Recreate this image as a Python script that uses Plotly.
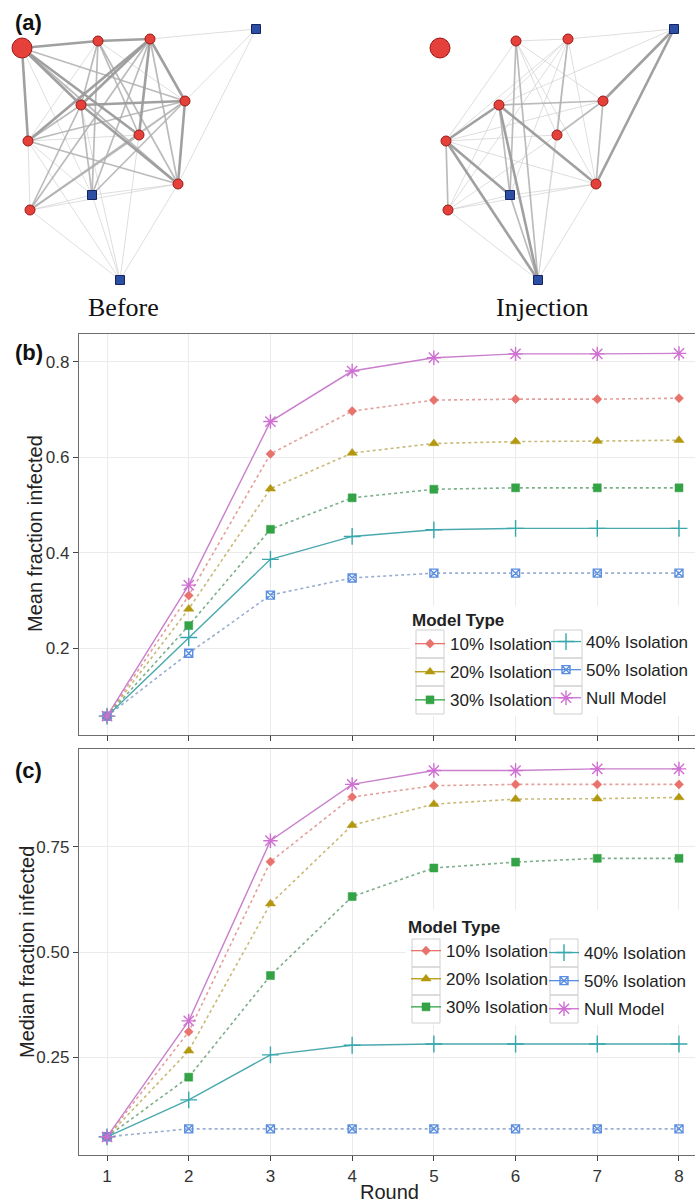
import plotly.graph_objects as go

W, H = 695, 1203

# ---------------- data ----------------
rounds = [1, 2, 3, 4, 5, 6, 7, 8]
model_types = ["10% Isolation", "20% Isolation", "30% Isolation",
               "40% Isolation", "50% Isolation", "Null Model"]

mean_10 = [0.057, 0.310, 0.607, 0.697, 0.720, 0.722, 0.722, 0.724]
mean_20 = [0.057, 0.282, 0.534, 0.609, 0.629, 0.633, 0.634, 0.636]
mean_30 = [0.057, 0.247, 0.449, 0.515, 0.533, 0.536, 0.536, 0.536]
mean_40 = [0.057, 0.222, 0.386, 0.434, 0.448, 0.451, 0.451, 0.451]
mean_50 = [0.057, 0.189, 0.311, 0.347, 0.357, 0.357, 0.357, 0.357]
mean_null = [0.057, 0.332, 0.675, 0.781, 0.809, 0.817, 0.817, 0.818]

median_10 = [0.060, 0.310, 0.715, 0.869, 0.896, 0.899, 0.899, 0.899]
median_20 = [0.060, 0.265, 0.615, 0.802, 0.852, 0.864, 0.865, 0.868]
median_30 = [0.060, 0.202, 0.444, 0.632, 0.700, 0.714, 0.723, 0.723]
median_40 = [0.060, 0.148, 0.255, 0.278, 0.281, 0.281, 0.281, 0.281]
median_50 = [0.060, 0.079, 0.079, 0.079, 0.079, 0.079, 0.079, 0.079]
median_null = [0.060, 0.336, 0.765, 0.899, 0.932, 0.932, 0.936, 0.936]

mean_ticks = [0.2, 0.4, 0.6, 0.8]
mean_ticktext = ["0.2", "0.4", "0.6", "0.8"]
median_ticks = [0.25, 0.50, 0.75]
median_ticktext = ["0.25", "0.50", "0.75"]

# network (layout coordinates of nodes; same layout used for both graphs)
node_ids = ["A", "B", "C", "S1", "D", "E", "F", "G", "H", "S2", "I", "S3"]
node_kind = ["big", "circle", "circle", "square", "circle", "circle",
             "circle", "circle", "circle", "square", "circle", "square"]
node_lx = [22, 98, 150, 256, 81, 185, 139, 28, 178, 92, 30, 120]
node_ly = [48, 41, 39, 29, 105, 101, 135, 141, 184, 195, 210, 280]

edges_before = [
    ("A", "B", 3), ("B", "C", 3), ("C", "S1", 1), ("A", "D", 3), ("A", "F", 3),
    ("A", "G", 3), ("A", "H", 2), ("A", "E", 2), ("A", "S2", 1),
    ("B", "D", 2), ("B", "S2", 2), ("B", "F", 2), ("B", "E", 1), ("B", "H", 2), ("B", "G", 1),
    ("C", "D", 3), ("C", "G", 3), ("C", "I", 2), ("C", "F", 3), ("C", "E", 3),
    ("C", "H", 2), ("C", "S2", 2),
    ("D", "E", 3), ("D", "H", 3), ("D", "G", 2), ("D", "I", 2), ("D", "S2", 2), ("D", "S3", 1),
    ("E", "G", 2), ("E", "I", 2), ("E", "S2", 2), ("E", "H", 3), ("E", "S1", 1), ("E", "F", 1),
    ("F", "G", 1), ("F", "I", 2), ("F", "S3", 1),
    ("G", "H", 2), ("G", "I", 1), ("G", "S3", 1), ("G", "S2", 1),
    ("H", "I", 1), ("H", "S3", 1), ("H", "S1", 1), ("H", "S2", 1),
    ("I", "S3", 1), ("I", "S2", 1), ("S2", "S3", 1),
]
edges_injection = [
    ("B", "C", 1), ("C", "S1", 1), ("B", "G", 1), ("B", "S2", 2), ("B", "S3", 2),
    ("B", "H", 1), ("B", "E", 1), ("B", "F", 1),
    ("C", "D", 1), ("C", "F", 2), ("C", "H", 1), ("C", "G", 1), ("C", "S3", 1),
    ("C", "S2", 1), ("C", "I", 1),
    ("S1", "E", 3), ("S1", "H", 3), ("S1", "D", 1),
    ("D", "G", 3), ("D", "E", 2), ("D", "H", 3), ("D", "S3", 3), ("D", "S2", 2), ("D", "I", 1),
    ("E", "F", 2), ("E", "H", 2), ("E", "G", 1),
    ("F", "G", 1), ("F", "S3", 1), ("F", "I", 1),
    ("G", "S2", 3), ("G", "S3", 3), ("G", "I", 2), ("G", "H", 1),
    ("H", "I", 1), ("H", "S2", 1), ("H", "S3", 1),
    ("I", "S3", 1), ("I", "S2", 1), ("S2", "S3", 2),
]
graph_titles = ["Before", "Injection"]

# ---------------- styles ----------------
colors = ["#e8736c", "#b3980f", "#33a345", "#35a7ad", "#5a8ee0", "#cf6fd2"]
line_colors = ["rgba(214,120,115,0.7)", "rgba(175,155,60,0.7)", "rgba(70,140,90,0.7)",
               "#4aa9ad", "rgba(110,140,190,0.7)", "#c97fcc"]
symbols = ["diamond", "triangle-up", "square", "cross-thin-open", "square-x-open", "asterisk-open"]
msizes = [7, 9, 8, 12, 8, 12]
dashes = ["dot", "dot", "dot", "solid", "dot", "solid"]
FONT = "Liberation Sans, Arial, sans-serif"


def px(x):
    return x / W


def py(y):
    return 1 - y / H


fig = go.Figure()

# ---------------- network panel ----------------
edge_styles = {1: ("rgba(205,205,205,0.65)", 1.0),
               2: ("rgba(175,175,175,0.85)", 1.7),
               3: ("rgba(155,155,155,0.95)", 2.6)}
graph_offset = [0, 418]
idx = {n: i for i, n in enumerate(node_ids)}
for g, edges in enumerate([edges_before, edges_injection]):
    off = graph_offset[g]
    for w in (1, 2, 3):
        ex, ey = [], []
        for a, b, ww in edges:
            if ww != w:
                continue
            ex += [node_lx[idx[a]] + off, node_lx[idx[b]] + off, None]
            ey += [node_ly[idx[a]], node_ly[idx[b]], None]
        col, lw = edge_styles[w]
        fig.add_trace(go.Scatter(x=ex, y=ey, mode="lines", line=dict(color=col, width=lw),
                                 xaxis="x3", yaxis="y3", showlegend=False, hoverinfo="skip"))
    for kind, sym, size, fill, edge in [("circle", "circle", 10, "#e5403a", "#9c1a16"),
                                         ("big", "circle", 20, "#e5403a", "#9c1a16"),
                                         ("square", "square", 9, "#2d4fa3", "#14245e")]:
        xs = [node_lx[i] + off for i in range(len(node_ids)) if node_kind[i] == kind]
        ys = [node_ly[i] for i in range(len(node_ids)) if node_kind[i] == kind]
        fig.add_trace(go.Scatter(x=xs, y=ys, mode="markers",
                                 marker=dict(symbol=sym, size=size, color=fill,
                                             line=dict(color=edge, width=1)),
                                 xaxis="x3", yaxis="y3", showlegend=False, hoverinfo="skip"))

# ---------------- line panels ----------------
panels = [("x", "y", [mean_10, mean_20, mean_30, mean_40, mean_50, mean_null], ["legend", "legend2"]),
          ("x2", "y2", [median_10, median_20, median_30, median_40, median_50, median_null], ["legend3", "legend4"])]
for pi, (xa, ya, series, legs) in enumerate(panels):
    for i, name in enumerate(model_types):
        open_sym = symbols[i].endswith("open")
        mk = dict(symbol=symbols[i], size=msizes[i], color=colors[i],
                  line=dict(color=colors[i], width=1.4 if open_sym else 0.5))
        fig.add_trace(go.Scatter(x=rounds, y=series[i], mode="lines+markers", name=name,
                                 line=dict(color=line_colors[i], width=1.4 if dashes[i] == "solid" else 1.6,
                                           dash=dashes[i]),
                                 marker=mk, xaxis=xa, yaxis=ya, showlegend=False))
    for i, name in enumerate(model_types):
        open_sym = symbols[i].endswith("open")
        mk = dict(symbol=symbols[i], size=msizes[i], color=colors[i],
                  line=dict(color=colors[i], width=1.4 if open_sym else 0.5))
        fig.add_trace(go.Scatter(x=[None], y=[None], mode="lines+markers", name=name,
                                 line=dict(color=colors[i], width=1.3), marker=mk,
                                 xaxis=xa, yaxis=ya, showlegend=True,
                                 legend=legs[0] if i < 3 else legs[1],
                                 legendgroup=f"p{pi}_{i}"))

# ---------------- layout ----------------
tickfont = dict(family=FONT, size=17, color="#333333")
axis_common = dict(showgrid=True, gridcolor="#ebebeb", gridwidth=1, zeroline=False,
                   showline=True, linecolor="#6e6e6e", linewidth=1.3,
                   ticks="outside", ticklen=5, tickwidth=1.2, tickcolor="#444444",
                   tickfont=tickfont, automargin=False)
xdom = [px(79), 1]
fig.update_layout(
    width=W, height=H, margin=dict(l=0, r=0, t=0, b=0),
    paper_bgcolor="white", plot_bgcolor="white",
    font=dict(family=FONT, color="#222222"),
    xaxis=dict(domain=xdom, anchor="y", range=[0.657, 8.196], tickvals=rounds,
               showticklabels=False, mirror=True, **axis_common),
    yaxis=dict(domain=[py(735), py(334)], anchor="x", range=[0.0175, 0.8587],
               tickvals=mean_ticks, ticktext=mean_ticktext, **axis_common),
    xaxis2=dict(domain=xdom, anchor="y2", range=[0.657, 8.196], tickvals=rounds,
                ticktext=[str(r) for r in rounds], mirror=True, **axis_common),
    yaxis2=dict(domain=[py(1155), py(749)], anchor="x2", range=[0.0167, 0.9833],
                tickvals=median_ticks, ticktext=median_ticktext, **axis_common),
    xaxis3=dict(domain=[0, 1], anchor="y3", range=[0, W], visible=False),
    yaxis3=dict(domain=[py(325), 1], anchor="x3", range=[325, 0], visible=False),
)

leg_common = dict(xanchor="left", yanchor="top", bgcolor="rgba(0,0,0,0)",
                  font=dict(family=FONT, size=17, color="#222222"),
                  tracegroupgap=3, traceorder="grouped", itemwidth=30)
fig.update_layout(
    legend=dict(x=px(410), y=py(604), title=dict(text="<b>Model Type</b>", side="top",
                                                  font=dict(family=FONT, size=17)), **leg_common),
    legend2=dict(x=px(546), y=py(624), **leg_common),
    legend3=dict(x=px(406), y=py(911), title=dict(text="<b>Model Type</b>", side="top",
                                                   font=dict(family=FONT, size=17)), **leg_common),
    legend4=dict(x=px(544), y=py(935), **leg_common),
)

# legend backgrounds and key boxes
shapes = []
for (bx0, by0, bx1, by1, c1, c2, r0) in [(410, 606, W, 716, 416, 554, 630),
                                          (406, 910, W, 1025, 412, 550, 939)]:
    shapes.append(dict(type="rect", xref="paper", yref="paper", x0=px(bx0), x1=px(bx1),
                       y0=py(by1), y1=py(by0), fillcolor="white", line=dict(width=0), layer="above"))
    for cx in (c1, c2):
        for r in range(3):
            shapes.append(dict(type="rect", xref="paper", yref="paper", x0=px(cx), x1=px(cx + 28),
                               y0=py(r0 + 28 * (r + 1)), y1=py(r0 + 28 * r),
                               fillcolor="rgba(0,0,0,0)", line=dict(color="#d0d0d0", width=1),
                               layer="above"))
fig.update_layout(shapes=shapes)

ann = []
for txt, x, y in [("(a)", 13, 22), ("(b)", 13, 352), ("(c)", 13, 770)]:
    ann.append(dict(text=f"<b>{txt}</b>", x=px(x), y=py(y), xref="paper", yref="paper",
                    xanchor="left", yanchor="middle", showarrow=False,
                    font=dict(family=FONT, size=22, color="#111111")))
for txt, x in zip(graph_titles, [123, 542]):
    ann.append(dict(text=txt, x=px(x), y=py(308), xref="paper", yref="paper",
                    xanchor="center", yanchor="middle", showarrow=False,
                    font=dict(family="Liberation Serif, Times New Roman, serif", size=26, color="#111111")))
ann.append(dict(text="Mean fraction infected", x=px(35), y=py(534), xref="paper", yref="paper",
                textangle=-90, xanchor="center", yanchor="middle", showarrow=False,
                font=dict(family=FONT, size=20, color="#222222")))
ann.append(dict(text="Median fraction infected", x=px(27), y=py(952), xref="paper", yref="paper",
                textangle=-90, xanchor="center", yanchor="middle", showarrow=False,
                font=dict(family=FONT, size=20, color="#222222")))
ann.append(dict(text="Round", x=px(390), y=py(1192), xref="paper", yref="paper",
                xanchor="center", yanchor="middle", showarrow=False,
                font=dict(family=FONT, size=20, color="#222222")))
fig.update_layout(annotations=ann)

fig.write_html("out.html", config={"displayModeBar": False},
               post_script="document.body.style.margin='0';document.body.style.overflow='hidden';")
